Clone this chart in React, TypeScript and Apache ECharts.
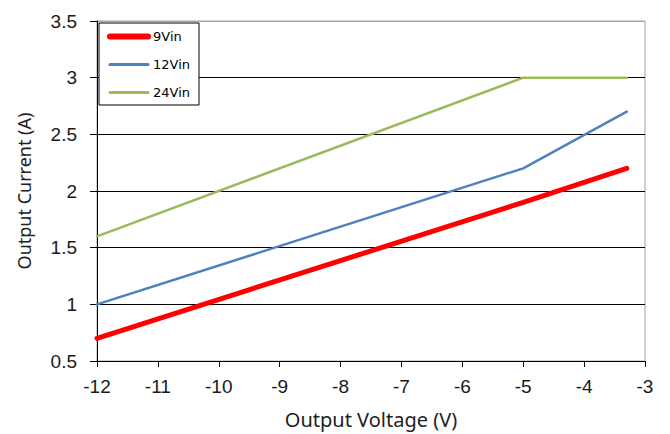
import React, { useEffect, useRef } from "react";
import * as echarts from "echarts";

const seriesNames = ["9Vin", "12Vin", "24Vin"];
const vin9: [number, number][] = [[-12, 0.7], [-5, 1.9], [-3.3, 2.2]];
const vin12: [number, number][] = [[-12, 1.0], [-5, 2.2], [-3.3, 2.7]];
const vin24: [number, number][] = [[-12, 1.6], [-5, 3.0], [-3.3, 3.0]];
const colors = ["#ff0000", "#4f81bd", "#9bbb59"];
const widths = [5, 2.5, 2.5];
const legendWidths = [6, 3, 3];

export default function App() {
  const ref = useRef<HTMLDivElement>(null);
  useEffect(() => {
    const chart = echarts.init(ref.current!, null, { renderer: "svg" });
    const datas = [vin9, vin12, vin24];
    chart.setOption({
      animation: false,
      backgroundColor: "#ffffff",
      grid: {
        left: 97,
        right: 25,
        top: 21,
        bottom: 73,
        show: true,
        borderColor: "#a6a6a6",
        borderWidth: 1,
      },
      legend: {
        show: true,
        orient: "vertical",
        left: 99,
        top: 23,
        padding: [7, 9, 6, 8],
        itemGap: 15,
        itemWidth: 38,
        itemHeight: 14,
        borderColor: "#000",
        borderWidth: 1,
        backgroundColor: "#fff",
        itemStyle: { opacity: 0 },
        textStyle: { fontSize: 13, color: "#000", fontFamily: "DejaVu Sans" },
        data: seriesNames.map((n, i) => ({
          name: n,
          lineStyle: { width: legendWidths[i], color: colors[i], cap: "round" },
        })),
      },
      xAxis: {
        type: "value",
        min: -12,
        max: -3,
        interval: 1,
        name: "Output Voltage (V)",
        nameLocation: "middle",
        nameGap: 48,
        nameTextStyle: { fontSize: 20, color: "#222", fontFamily: "Noto Sans" },
        axisLine: { lineStyle: { color: "#000", width: 1 } },
        axisTick: { show: true, length: 6, lineStyle: { color: "#000" } },
        axisLabel: { fontSize: 19, color: "#1a1a1a", margin: 16, fontFamily: "Liberation Sans" },
        splitLine: { show: false },
      },
      yAxis: {
        type: "value",
        min: 0.5,
        max: 3.5,
        interval: 0.5,
        name: "Output Current (A)",
        nameLocation: "middle",
        nameGap: 64,
        nameTextStyle: { fontSize: 18, color: "#222", fontFamily: "Noto Sans" },
        axisLine: { show: true, lineStyle: { color: "#000", width: 1 } },
        axisTick: { show: true, length: 7, lineStyle: { color: "#000" } },
        axisLabel: { fontSize: 19, color: "#1a1a1a", margin: 20, fontFamily: "Liberation Sans" },
        splitLine: {
          show: true,
          lineStyle: { color: ["#000", "#000", "#000", "#000", "#000", "#000", "#a6a6a6"], width: 1 },
        },
      },
      series: datas.map((d, i) => ({
        name: seriesNames[i],
        type: "line",
        data: d,
        showSymbol: false,
        symbol: "none",
        lineStyle: { color: colors[i], width: widths[i], cap: "round" },
        itemStyle: { color: colors[i] },
      })),
    });
    return () => chart.dispose();
  }, []);
  return <div ref={ref} style={{ width: 670, height: 434, position: "absolute", left: 0, top: 0 }} />;
}
